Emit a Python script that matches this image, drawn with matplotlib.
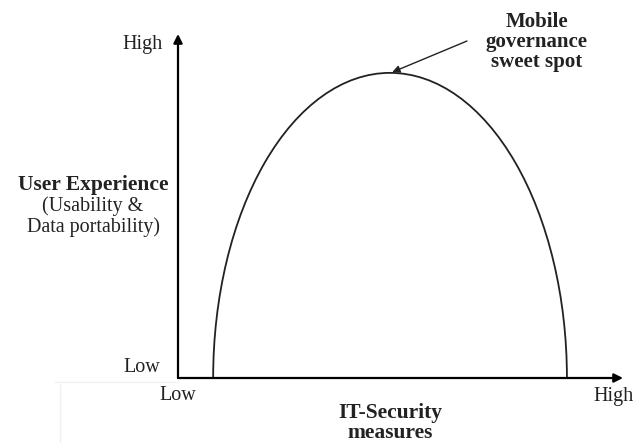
import matplotlib
matplotlib.use("Agg")
import matplotlib.pyplot as plt
from matplotlib.patches import Arc

plt.rcParams["font.family"] = ["Liberation Serif", "DejaVu Serif"]

W, H = 635, 443

# conceptual curve (axes fraction units, 0..1)
curve_start = 0.079
curve_end = 0.874
curve_peak = 0.887

axis_labels_low_high = ["Low", "High"]
y_title = ["User Experience", "(Usability &\nData portability)"]
x_title = "IT-Security\nmeasures"
callout = "Mobile\ngovernance\nsweet spot"


def fx(px):
    return px / W


def fy(py):
    return 1 - py / H


fig = plt.figure(figsize=(W / 100, H / 100), dpi=100)
ax = fig.add_axes([fx(178), fy(378), fx(623) - fx(178), fy(34) - fy(378)])
ax.set_xlim(0, 1)
ax.set_ylim(0, 1)
ax.axis("off")

# axes with arrows
arrow_kw = dict(arrowstyle="-|>", lw=1.6, color="black", mutation_scale=13,
                shrinkA=0, shrinkB=0)
ax.annotate("", xy=(1, 0), xytext=(0, 0), arrowprops=arrow_kw, annotation_clip=False)
ax.annotate("", xy=(0, 1), xytext=(0, 0), arrowprops=arrow_kw, annotation_clip=False)

# the semi-elliptic curve
center = (curve_start + curve_end) / 2
ax.add_patch(Arc((center, 0), curve_end - curve_start, 2 * curve_peak,
                 theta1=0, theta2=180, color="#222222", lw=1.3))

# callout for the sweet spot
ax.annotate("", xy=(center + 0.005, curve_peak + 0.002), xycoords="data",
            xytext=(fx(467), fy(41)), textcoords="figure fraction",
            arrowprops=dict(arrowstyle="-|>", lw=1.0, color="#222222",
                            mutation_scale=11, shrinkA=0, shrinkB=0))
fig.text(fx(537), fy(42), callout, ha="center", va="center", fontsize=15,
         fontweight="bold", linespacing=1.0, color="#222222")

# axis end labels
txt = dict(fontsize=14.5, color="#222222")
fig.text(fx(163), fy(44), axis_labels_low_high[1], ha="right", va="center", **txt)
fig.text(fx(160), fy(367), axis_labels_low_high[0], ha="right", va="center", **txt)
fig.text(fx(178), fy(395), axis_labels_low_high[0], ha="center", va="center", **txt)
fig.text(fx(614), fy(397), axis_labels_low_high[1], ha="center", va="center", **txt)

# axis titles
fig.text(fx(93), fy(185), y_title[0], ha="center", va="center", fontsize=15.5,
         fontweight="bold", color="#222222")
fig.text(fx(93), fy(217), y_title[1], ha="center", va="center", fontsize=14.5,
         linespacing=1.1, color="#222222", multialignment="center")
fig.text(fx(390), fy(423), x_title, ha="center", va="center", fontsize=15.5,
         fontweight="bold", linespacing=0.95, color="#222222")

# faint scan frame
fig.add_artist(plt.Line2D([fx(55), fx(178)], [fy(382), fy(382)], color="#f0f0f0", lw=1))
fig.add_artist(plt.Line2D([fx(60), fx(60)], [fy(385), fy(443)], color="#f0f0f0", lw=1))

fig.savefig("out.png", dpi=100)
